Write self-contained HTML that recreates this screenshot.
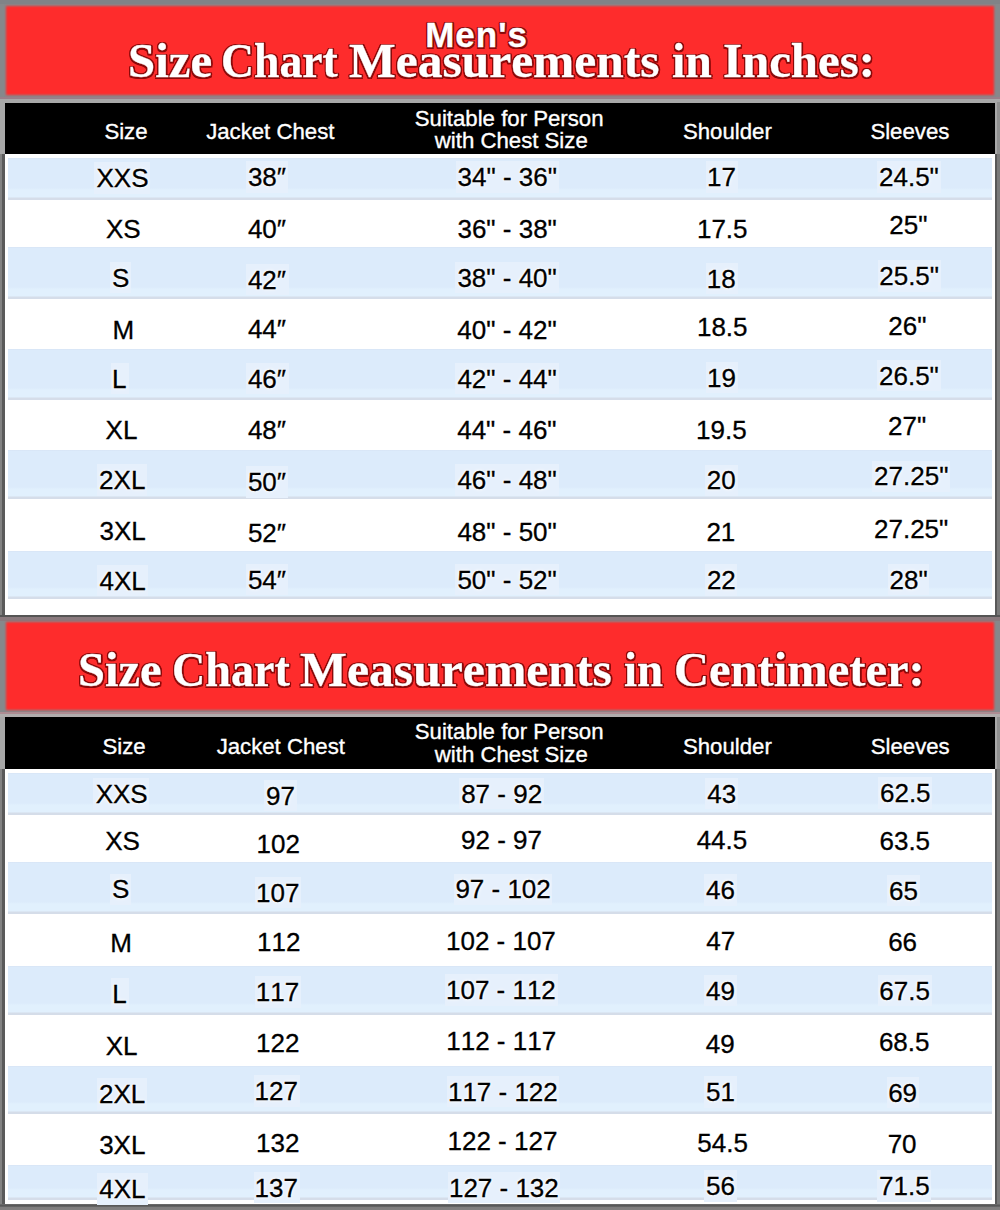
<!DOCTYPE html>
<html><head><meta charset="utf-8"><title>Size Chart</title>
<style>
html,body{margin:0;padding:0}
body{width:1000px;height:1210px;position:relative;overflow:hidden;background:#86888b}
.r{position:absolute}
.t{position:absolute;white-space:pre;line-height:1;font-family:"Liberation Sans", sans-serif;font-kerning:none}
.ti{color:#fff;font-weight:700;-webkit-text-stroke:0.3px #fff;text-shadow:1.5px 1.5px 0.6px #8a0a0a,-1.2px -1.2px 0.6px #8a0a0a,1.5px -1.2px 0.6px #8a0a0a,-1.2px 1.5px 0.6px #8a0a0a,1.8px 0 0.6px #8a0a0a,-1.4px 0 0.6px #8a0a0a,0 1.8px 0.6px #8a0a0a,0 -1.4px 0.6px #8a0a0a}
.tt{font-family:"Liberation Serif", serif;transform-origin:0 0}
.h{color:#fff;-webkit-text-stroke:0.35px #fff}
.d{color:#000;-webkit-text-stroke:0.3px #000}
.g{text-shadow:0 0 2px #fff,0 0 3px #fff,0 0 4px #fff}
</style></head><body>
<div class="r" style="left:0px;top:0px;width:1000px;height:1210px;background:#86888b;"></div>
<div class="r" style="left:0px;top:0px;width:1000px;height:4px;background:#808387;"></div>
<div class="r" style="left:5.5px;top:5.5px;width:988.0px;height:89.1px;background:#fe2c2c;filter:blur(0.9px)"></div>
<div class="r" style="left:0px;top:96.5px;width:1000px;height:2.5px;background:#98808a;filter:blur(0.7px)"></div>
<div class="r" style="left:0px;top:99px;width:1000px;height:3.5999999999999943px;background:#a8a8a8;"></div>
<div class="r" style="left:0px;top:102px;width:1000px;height:52px;background:#a8a8a8;"></div>
<div class="r" style="left:997px;top:102px;width:3px;height:52px;background:#909090;"></div>
<div class="r" style="left:5px;top:102.6px;width:990px;height:51.400000000000006px;background:#000;"></div>
<div class="r" style="left:0px;top:154px;width:5px;height:461px;background:#5a5a5a;"></div>
<div class="r" style="left:0px;top:154px;width:2px;height:461px;background:#828282;"></div>
<div class="r" style="left:995px;top:154px;width:5px;height:461px;background:#7a7a7a;"></div>
<div class="r" style="left:995px;top:154px;width:2px;height:461px;background:#585858;"></div>
<div class="r" style="left:5px;top:154px;width:990px;height:461px;background:#fff;"></div>
<div class="r" style="left:8px;top:158px;width:984px;height:42px;background:linear-gradient(to bottom,#d6e2f3 0,#dcebfb 1px,#dcebfb calc(100% - 12px),#e1f0fd calc(100% - 10px),#e1f0fd calc(100% - 3px),#d5dde9 calc(100% - 2px),#d5dde9 100%);"></div>
<div class="r" style="left:8px;top:247px;width:984px;height:52px;background:linear-gradient(to bottom,#d6e2f3 0,#dcebfb 1px,#dcebfb calc(100% - 12px),#e1f0fd calc(100% - 10px),#e1f0fd calc(100% - 3px),#d5dde9 calc(100% - 2px),#d5dde9 100%);"></div>
<div class="r" style="left:8px;top:349px;width:984px;height:51px;background:linear-gradient(to bottom,#d6e2f3 0,#dcebfb 1px,#dcebfb calc(100% - 12px),#e1f0fd calc(100% - 10px),#e1f0fd calc(100% - 3px),#d5dde9 calc(100% - 2px),#d5dde9 100%);"></div>
<div class="r" style="left:8px;top:450px;width:984px;height:49px;background:linear-gradient(to bottom,#d6e2f3 0,#dcebfb 1px,#dcebfb calc(100% - 12px),#e1f0fd calc(100% - 10px),#e1f0fd calc(100% - 3px),#d5dde9 calc(100% - 2px),#d5dde9 100%);"></div>
<div class="r" style="left:8px;top:551px;width:984px;height:48px;background:linear-gradient(to bottom,#d6e2f3 0,#dcebfb 1px,#dcebfb calc(100% - 12px),#e1f0fd calc(100% - 10px),#e1f0fd calc(100% - 3px),#d5dde9 calc(100% - 2px),#d5dde9 100%);"></div>
<div class="r" style="left:0px;top:615px;width:1000px;height:2px;background:#555;"></div>
<div class="r" style="left:0px;top:617px;width:1000px;height:4px;background:#8a7a7e;"></div>
<div class="r" style="left:5.5px;top:621.5px;width:988.0px;height:88.0px;background:#fe2c2c;filter:blur(0.9px)"></div>
<div class="r" style="left:0px;top:711.5px;width:1000px;height:2.0px;background:#ad8c92;filter:blur(0.6px)"></div>
<div class="r" style="left:0px;top:713.5px;width:1000px;height:3.2999999999999545px;background:#b0acac;"></div>
<div class="r" style="left:0px;top:716.8px;width:1000px;height:52.200000000000045px;background:#a8a8a8;"></div>
<div class="r" style="left:997px;top:716.8px;width:3px;height:52.200000000000045px;background:#909090;"></div>
<div class="r" style="left:5px;top:716.8px;width:990px;height:52.200000000000045px;background:#000;"></div>
<div class="r" style="left:0px;top:769px;width:5px;height:435px;background:#5a5a5a;"></div>
<div class="r" style="left:0px;top:769px;width:2px;height:435px;background:#828282;"></div>
<div class="r" style="left:995px;top:769px;width:5px;height:435px;background:#7a7a7a;"></div>
<div class="r" style="left:995px;top:769px;width:2px;height:435px;background:#585858;"></div>
<div class="r" style="left:5px;top:769px;width:990px;height:435px;background:#fff;"></div>
<div class="r" style="left:8px;top:773px;width:984px;height:42px;background:linear-gradient(to bottom,#d6e2f3 0,#dcebfb 1px,#dcebfb calc(100% - 12px),#e1f0fd calc(100% - 10px),#e1f0fd calc(100% - 3px),#d5dde9 calc(100% - 2px),#d5dde9 100%);"></div>
<div class="r" style="left:8px;top:862px;width:984px;height:52px;background:linear-gradient(to bottom,#d6e2f3 0,#dcebfb 1px,#dcebfb calc(100% - 12px),#e1f0fd calc(100% - 10px),#e1f0fd calc(100% - 3px),#d5dde9 calc(100% - 2px),#d5dde9 100%);"></div>
<div class="r" style="left:8px;top:966px;width:984px;height:49px;background:linear-gradient(to bottom,#d6e2f3 0,#dcebfb 1px,#dcebfb calc(100% - 12px),#e1f0fd calc(100% - 10px),#e1f0fd calc(100% - 3px),#d5dde9 calc(100% - 2px),#d5dde9 100%);"></div>
<div class="r" style="left:8px;top:1066px;width:984px;height:48px;background:linear-gradient(to bottom,#d6e2f3 0,#dcebfb 1px,#dcebfb calc(100% - 12px),#e1f0fd calc(100% - 10px),#e1f0fd calc(100% - 3px),#d5dde9 calc(100% - 2px),#d5dde9 100%);"></div>
<div class="r" style="left:8px;top:1165px;width:984px;height:35px;background:linear-gradient(to bottom,#d6e2f3 0,#dcebfb 1px,#dcebfb calc(100% - 12px),#e1f0fd calc(100% - 10px),#e1f0fd calc(100% - 3px),#d5dde9 calc(100% - 2px),#d5dde9 100%);"></div>
<div class="r" style="left:0px;top:1203.6px;width:1000px;height:6.400000000000091px;background:linear-gradient(to bottom,#fff 0.00%,#555 9.38%,#5a5a5a 37.50%,#7f7e7e 53.13%,#828080 100.00%)"></div>
<span class="t ti" style="left:425.16px;top:17.17px;font-size:35px;letter-spacing:1.0px;">Men's</span>
<span class="t ti tt" style="left:127.90px;top:36.60px;font-size:48.25px;transform:scaleX(1.0119)">Size</span>
<span class="t ti tt" style="left:221.37px;top:36.60px;font-size:48.25px;transform:scaleX(0.9477)">Chart</span>
<span class="t ti tt" style="left:349.15px;top:36.60px;font-size:48.25px;transform:scaleX(1.0256)">Measurements</span>
<span class="t ti tt" style="left:671.95px;top:36.60px;font-size:48.25px;transform:scaleX(0.9883)">in</span>
<span class="t ti tt" style="left:723.35px;top:36.60px;font-size:48.25px;transform:scaleX(1.0126)">Inches:</span>
<span class="t ti tt" style="left:77.92px;top:646.00px;font-size:48.25px;transform:scaleX(1.0044)">Size</span>
<span class="t ti tt" style="left:172.25px;top:646.00px;font-size:48.25px;transform:scaleX(0.9551)">Chart</span>
<span class="t ti tt" style="left:299.75px;top:646.00px;font-size:48.25px;transform:scaleX(1.0299)">Measurements</span>
<span class="t ti tt" style="left:623.67px;top:646.00px;font-size:48.25px;transform:scaleX(0.9701)">in</span>
<span class="t ti tt" style="left:674.03px;top:646.00px;font-size:48.25px;transform:scaleX(1.0063)">Centimeter:</span>
<span class="t h" style="left:104.39px;top:120.70px;font-size:22.2px;">Size</span>
<span class="t h" style="left:206.15px;top:120.70px;font-size:22.2px;">Jacket Chest</span>
<span class="t h" style="left:414.79px;top:107.60px;font-size:22.2px;">Suitable for Person</span>
<span class="t h" style="left:434.83px;top:129.60px;font-size:22.2px;">with Chest Size</span>
<span class="t h" style="left:682.99px;top:120.70px;font-size:22.2px;">Shoulder</span>
<span class="t h" style="left:870.39px;top:120.70px;font-size:22.2px;">Sleeves</span>
<span class="t h" style="left:102.49px;top:736.00px;font-size:22.2px;">Size</span>
<span class="t h" style="left:216.65px;top:736.00px;font-size:22.2px;">Jacket Chest</span>
<span class="t h" style="left:414.79px;top:720.90px;font-size:22.2px;">Suitable for Person</span>
<span class="t h" style="left:434.83px;top:743.60px;font-size:22.2px;">with Chest Size</span>
<span class="t h" style="left:682.99px;top:736.00px;font-size:22.2px;">Shoulder</span>
<span class="t h" style="left:870.79px;top:736.00px;font-size:22.2px;">Sleeves</span>
<div class="r" style="left:94.1px;top:162.0px;width:56.30000000000001px;height:31.5px;background:#e6f0fc;"></div>
<span class="t d g" style="left:96.54px;top:164.99px;font-size:26px;">XXS</span>
<span class="t d" style="left:105.96px;top:215.99px;font-size:26px;">XS</span>
<div class="r" style="left:110.3px;top:261.6px;width:20.89999999999999px;height:31.5px;background:#e6f0fc;"></div>
<span class="t d g" style="left:112.09px;top:264.59px;font-size:26px;">S</span>
<span class="t d" style="left:112.42px;top:317.19px;font-size:26px;">M</span>
<div class="r" style="left:111.2px;top:362.8px;width:17.39999999999999px;height:31.5px;background:#e6f0fc;"></div>
<span class="t d g" style="left:112.04px;top:365.79px;font-size:26px;">L</span>
<span class="t d" style="left:105.59px;top:417.19px;font-size:26px;">XL</span>
<div class="r" style="left:97.4px;top:464.2px;width:50.099999999999994px;height:31.5px;background:#e6f0fc;"></div>
<span class="t d g" style="left:99.10px;top:467.19px;font-size:26px;">2XL</span>
<span class="t d" style="left:99.56px;top:518.49px;font-size:26px;">3XL</span>
<div class="r" style="left:97.0px;top:564.6px;width:50.900000000000006px;height:31.5px;background:#e6f0fc;"></div>
<span class="t d g" style="left:99.45px;top:567.59px;font-size:26px;">4XL</span>
<div class="r" style="left:245.9px;top:161.4px;width:42.599999999999994px;height:31.5px;background:#e6f0fc;"></div>
<span class="t d g" style="left:247.88px;top:164.39px;font-size:26px;">38″</span>
<span class="t d" style="left:247.88px;top:216.39px;font-size:26px;">40″</span>
<div class="r" style="left:245.5px;top:263.6px;width:43.0px;height:31.5px;background:#e6f0fc;"></div>
<span class="t d g" style="left:247.88px;top:266.59px;font-size:26px;">42″</span>
<span class="t d" style="left:247.88px;top:316.19px;font-size:26px;">44″</span>
<div class="r" style="left:245.5px;top:362.8px;width:43.0px;height:31.5px;background:#e6f0fc;"></div>
<span class="t d g" style="left:247.88px;top:365.79px;font-size:26px;">46″</span>
<span class="t d" style="left:247.88px;top:417.19px;font-size:26px;">48″</span>
<div class="r" style="left:245.9px;top:466.4px;width:42.599999999999994px;height:31.5px;background:#e6f0fc;"></div>
<span class="t d g" style="left:247.88px;top:469.39px;font-size:26px;">50″</span>
<span class="t d" style="left:247.88px;top:519.89px;font-size:26px;">52″</span>
<div class="r" style="left:245.9px;top:563.6px;width:42.599999999999994px;height:31.5px;background:#e6f0fc;"></div>
<span class="t d g" style="left:247.88px;top:566.59px;font-size:26px;">54″</span>
<div class="r" style="left:455.6px;top:161.4px;width:103.29999999999995px;height:31.5px;background:#e6f0fc;"></div>
<span class="t d g" style="left:457.60px;top:164.39px;font-size:26px;">34&quot; - 36&quot;</span>
<span class="t d" style="left:457.45px;top:215.99px;font-size:26px;">36&quot; - 38&quot;</span>
<div class="r" style="left:455.4px;top:261.6px;width:103.30000000000007px;height:31.5px;background:#e6f0fc;"></div>
<span class="t d g" style="left:457.40px;top:264.59px;font-size:26px;">38&quot; - 40&quot;</span>
<span class="t d" style="left:457.35px;top:317.19px;font-size:26px;">40&quot; - 42&quot;</span>
<div class="r" style="left:455.0px;top:362.8px;width:103.70000000000005px;height:31.5px;background:#e6f0fc;"></div>
<span class="t d g" style="left:457.40px;top:365.79px;font-size:26px;">42&quot; - 44&quot;</span>
<span class="t d" style="left:457.20px;top:417.19px;font-size:26px;">44&quot; - 46&quot;</span>
<div class="r" style="left:455.0px;top:464.2px;width:103.70000000000005px;height:31.5px;background:#e6f0fc;"></div>
<span class="t d g" style="left:457.40px;top:467.19px;font-size:26px;">46&quot; - 48&quot;</span>
<span class="t d" style="left:457.40px;top:519.39px;font-size:26px;">48&quot; - 50&quot;</span>
<div class="r" style="left:455.4px;top:563.6px;width:103.30000000000007px;height:31.5px;background:#e6f0fc;"></div>
<span class="t d g" style="left:457.40px;top:566.59px;font-size:26px;">50&quot; - 52&quot;</span>
<div class="r" style="left:706.0px;top:161.4px;width:31.700000000000045px;height:31.5px;background:#e6f0fc;"></div>
<span class="t d g" style="left:707.05px;top:164.39px;font-size:26px;">17</span>
<span class="t d" style="left:696.95px;top:215.99px;font-size:26px;">17.5</span>
<div class="r" style="left:705.7px;top:262.6px;width:31.899999999999977px;height:31.5px;background:#e6f0fc;"></div>
<span class="t d g" style="left:706.76px;top:265.59px;font-size:26px;">18</span>
<span class="t d" style="left:696.95px;top:314.19px;font-size:26px;">18.5</span>
<div class="r" style="left:706.0px;top:361.8px;width:31.700000000000045px;height:31.5px;background:#e6f0fc;"></div>
<span class="t d g" style="left:707.02px;top:364.79px;font-size:26px;">19</span>
<span class="t d" style="left:696.10px;top:417.19px;font-size:26px;">19.5</span>
<div class="r" style="left:705.1px;top:464.5px;width:32.5px;height:31.5px;background:#e6f0fc;"></div>
<span class="t d g" style="left:706.74px;top:467.49px;font-size:26px;">20</span>
<span class="t d" style="left:706.42px;top:518.99px;font-size:26px;">21</span>
<div class="r" style="left:705.2px;top:564.2px;width:32.299999999999955px;height:31.5px;background:#e6f0fc;"></div>
<span class="t d g" style="left:706.89px;top:567.19px;font-size:26px;">22</span>
<div class="r" style="left:877.3px;top:161.4px;width:63.5px;height:31.5px;background:#e6f0fc;"></div>
<span class="t d g" style="left:879.03px;top:164.39px;font-size:26px;">24.5&quot;</span>
<span class="t d" style="left:889.32px;top:212.39px;font-size:26px;">25&quot;</span>
<div class="r" style="left:877.5px;top:260.0px;width:63.5px;height:31.5px;background:#e6f0fc;"></div>
<span class="t d g" style="left:879.23px;top:262.99px;font-size:26px;">25.5&quot;</span>
<span class="t d" style="left:888.32px;top:313.19px;font-size:26px;">26&quot;</span>
<div class="r" style="left:877.3px;top:359.8px;width:63.5px;height:31.5px;background:#e6f0fc;"></div>
<span class="t d g" style="left:879.03px;top:362.79px;font-size:26px;">26.5&quot;</span>
<span class="t d" style="left:888.07px;top:412.59px;font-size:26px;">27&quot;</span>
<div class="r" style="left:872.4px;top:460.5px;width:77.89999999999998px;height:31.5px;background:#e6f0fc;"></div>
<span class="t d g" style="left:874.10px;top:463.49px;font-size:26px;">27.25&quot;</span>
<span class="t d" style="left:874.00px;top:516.29px;font-size:26px;">27.25&quot;</span>
<div class="r" style="left:887.8px;top:563.6px;width:41.700000000000045px;height:31.5px;background:#e6f0fc;"></div>
<span class="t d g" style="left:889.47px;top:566.59px;font-size:26px;">28&quot;</span>
<div class="r" style="left:93.3px;top:778.4px;width:56.2px;height:31.5px;background:#e6f0fc;"></div>
<span class="t d g" style="left:95.69px;top:781.39px;font-size:26px;">XXS</span>
<span class="t d" style="left:105.21px;top:828.39px;font-size:26px;">XS</span>
<div class="r" style="left:110.3px;top:873.5px;width:20.89999999999999px;height:31.5px;background:#e6f0fc;"></div>
<span class="t d g" style="left:112.09px;top:876.49px;font-size:26px;">S</span>
<span class="t d" style="left:110.27px;top:930.19px;font-size:26px;">M</span>
<div class="r" style="left:111.4px;top:977.8px;width:17.400000000000006px;height:31.5px;background:#e6f0fc;"></div>
<span class="t d g" style="left:112.24px;top:980.79px;font-size:26px;">L</span>
<span class="t d" style="left:105.79px;top:1032.59px;font-size:26px;">XL</span>
<div class="r" style="left:97.3px;top:1078.4px;width:50.10000000000001px;height:31.5px;background:#e6f0fc;"></div>
<span class="t d g" style="left:99.00px;top:1081.39px;font-size:26px;">2XL</span>
<span class="t d" style="left:99.16px;top:1131.79px;font-size:26px;">3XL</span>
<div class="r" style="left:96.8px;top:1173.4px;width:50.8px;height:31.5px;background:#e6f0fc;"></div>
<span class="t d g" style="left:99.20px;top:1176.39px;font-size:26px;">4XL</span>
<div class="r" style="left:264.3px;top:779.8px;width:32.30000000000001px;height:31.5px;background:#e6f0fc;"></div>
<span class="t d g" style="left:266.03px;top:782.79px;font-size:26px;">97</span>
<span class="t d" style="left:256.57px;top:830.99px;font-size:26px;">102</span>
<div class="r" style="left:255.1px;top:876.6px;width:46.00000000000003px;height:31.5px;background:#e6f0fc;"></div>
<span class="t d g" style="left:256.07px;top:879.59px;font-size:26px;">107</span>
<span class="t d" style="left:257.07px;top:928.59px;font-size:26px;">112</span>
<div class="r" style="left:254.9px;top:976.2px;width:45.99999999999997px;height:31.5px;background:#e6f0fc;"></div>
<span class="t d g" style="left:255.87px;top:979.19px;font-size:26px;">117</span>
<span class="t d" style="left:256.02px;top:1029.69px;font-size:26px;">122</span>
<div class="r" style="left:253.6px;top:1075.1px;width:46.099999999999994px;height:31.5px;background:#e6f0fc;"></div>
<span class="t d g" style="left:254.62px;top:1078.09px;font-size:26px;">127</span>
<span class="t d" style="left:256.02px;top:1129.79px;font-size:26px;">132</span>
<div class="r" style="left:253.6px;top:1171.8px;width:46.099999999999994px;height:31.5px;background:#e6f0fc;"></div>
<span class="t d g" style="left:254.62px;top:1174.79px;font-size:26px;">137</span>
<div class="r" style="left:459.3px;top:777.8px;width:84.49999999999994px;height:31.5px;background:#e6f0fc;"></div>
<span class="t d g" style="left:461.17px;top:780.79px;font-size:26px;">87 - 92</span>
<span class="t d" style="left:461.02px;top:826.99px;font-size:26px;">92 - 97</span>
<div class="r" style="left:453.6px;top:873.5px;width:98.89999999999998px;height:31.5px;background:#e6f0fc;"></div>
<span class="t d g" style="left:455.39px;top:876.49px;font-size:26px;">97 - 102</span>
<span class="t d" style="left:445.98px;top:927.79px;font-size:26px;">102 - 107</span>
<div class="r" style="left:445.0px;top:974.1px;width:112.5px;height:31.5px;background:#e6f0fc;"></div>
<span class="t d g" style="left:445.98px;top:977.09px;font-size:26px;">107 - 112</span>
<span class="t d" style="left:446.28px;top:1028.49px;font-size:26px;">112 - 117</span>
<div class="r" style="left:446.9px;top:1075.6px;width:112.60000000000002px;height:31.5px;background:#e6f0fc;"></div>
<span class="t d g" style="left:447.93px;top:1078.59px;font-size:26px;">117 - 122</span>
<span class="t d" style="left:447.53px;top:1127.69px;font-size:26px;">122 - 127</span>
<div class="r" style="left:447.9px;top:1171.8px;width:112.60000000000002px;height:31.5px;background:#e6f0fc;"></div>
<span class="t d g" style="left:448.93px;top:1174.79px;font-size:26px;">127 - 132</span>
<div class="r" style="left:704.8px;top:777.8px;width:33.200000000000045px;height:31.5px;background:#e6f0fc;"></div>
<span class="t d g" style="left:707.21px;top:780.79px;font-size:26px;">43</span>
<span class="t d" style="left:696.65px;top:826.99px;font-size:26px;">44.5</span>
<div class="r" style="left:703.6px;top:874.1px;width:33.10000000000002px;height:31.5px;background:#e6f0fc;"></div>
<span class="t d g" style="left:705.96px;top:877.09px;font-size:26px;">46</span>
<span class="t d" style="left:706.25px;top:928.19px;font-size:26px;">47</span>
<div class="r" style="left:703.6px;top:974.8px;width:33.10000000000002px;height:31.5px;background:#e6f0fc;"></div>
<span class="t d g" style="left:706.01px;top:977.79px;font-size:26px;">49</span>
<span class="t d" style="left:705.86px;top:1031.29px;font-size:26px;">49</span>
<div class="r" style="left:704.1px;top:1076.2px;width:32.69999999999993px;height:31.5px;background:#e6f0fc;"></div>
<span class="t d g" style="left:706.10px;top:1079.19px;font-size:26px;">51</span>
<span class="t d" style="left:697.37px;top:1130.09px;font-size:26px;">54.5</span>
<div class="r" style="left:704.0px;top:1170.1px;width:32.799999999999955px;height:31.5px;background:#e6f0fc;"></div>
<span class="t d g" style="left:705.99px;top:1173.09px;font-size:26px;">56</span>
<div class="r" style="left:878.3px;top:777.4px;width:54.200000000000045px;height:31.5px;background:#e6f0fc;"></div>
<span class="t d g" style="left:879.98px;top:780.39px;font-size:26px;">62.5</span>
<span class="t d" style="left:879.48px;top:827.99px;font-size:26px;">63.5</span>
<div class="r" style="left:887.3px;top:874.6px;width:32.60000000000002px;height:31.5px;background:#e6f0fc;"></div>
<span class="t d g" style="left:889.03px;top:877.59px;font-size:26px;">65</span>
<span class="t d" style="left:888.15px;top:928.79px;font-size:26px;">66</span>
<div class="r" style="left:877.6px;top:974.8px;width:54.19999999999993px;height:31.5px;background:#e6f0fc;"></div>
<span class="t d g" style="left:879.28px;top:977.79px;font-size:26px;">67.5</span>
<span class="t d" style="left:878.88px;top:1029.29px;font-size:26px;">68.5</span>
<div class="r" style="left:886.5px;top:1076.7px;width:32.299999999999955px;height:31.5px;background:#e6f0fc;"></div>
<span class="t d g" style="left:888.15px;top:1079.69px;font-size:26px;">69</span>
<span class="t d" style="left:887.63px;top:1130.99px;font-size:26px;">70</span>
<div class="r" style="left:877.4px;top:1170.1px;width:54.10000000000002px;height:31.5px;background:#e6f0fc;"></div>
<span class="t d g" style="left:879.03px;top:1173.09px;font-size:26px;">71.5</span>
</body></html>
